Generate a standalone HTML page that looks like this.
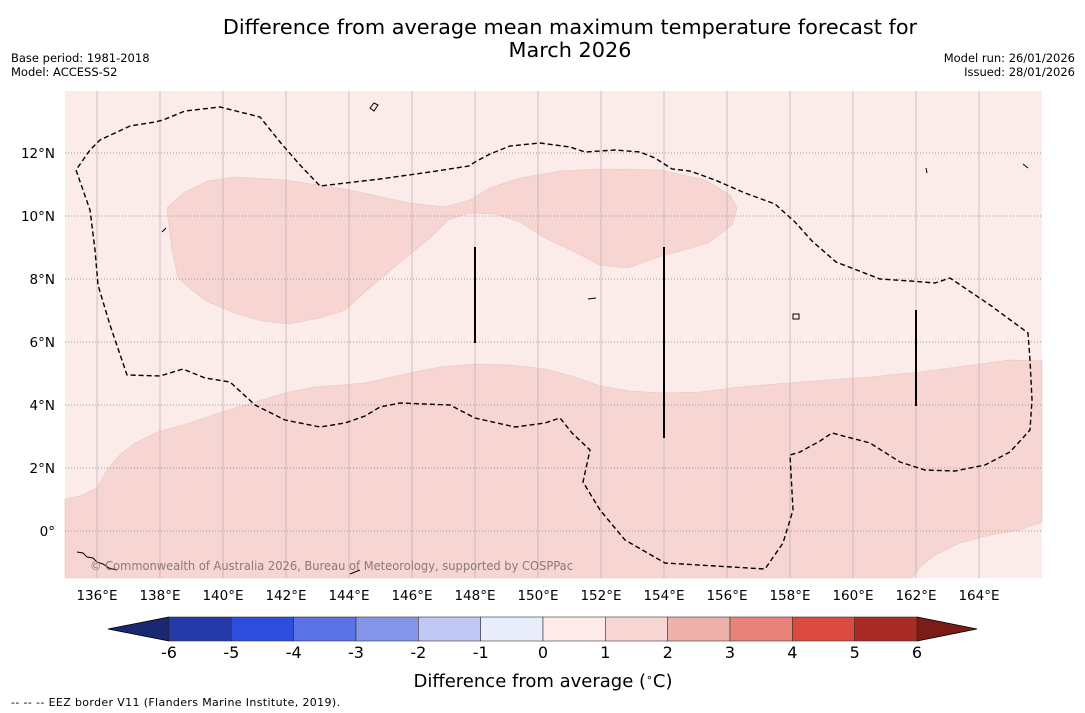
<!DOCTYPE html>
<html><head><meta charset="utf-8"><style>
body{margin:0;width:1085px;height:713px;background:#fff;font-family:"DejaVu Sans","Liberation Sans",sans-serif;overflow:hidden}
</style></head><body>
<svg width="1085" height="713" style="position:absolute;left:0;top:0">
<text x="570" y="34" font-size="20.8" text-anchor="middle">Difference from average mean maximum temperature forecast for</text>
<text x="570" y="57" font-size="20.8" text-anchor="middle">March 2026</text>
<text x="11" y="62" font-size="11.5">Base period: 1981-2018</text>
<text x="11" y="76" font-size="11.5">Model: ACCESS-S2</text>
<text x="1075" y="62" font-size="11.5" text-anchor="end">Model run: 26/01/2026</text>
<text x="1075" y="76" font-size="11.5" text-anchor="end">Issued: 28/01/2026</text>
<g id="map">
<rect x="65" y="91" width="977" height="487" fill="#fbebe9"/>
<polygon fill="#f6d5d3" stroke="#e9c4c2" stroke-width="0.6" points="167,208 185,192 208,181 235,177 285,180 345,189 410,203 445,207 470,200 490,188 520,178 560,171 600,169 660,170 705,180 730,195 737,208 732,225 708,243 680,251 655,258 628,268 600,265 575,252 545,238 520,222 495,214 470,213 448,220 430,238 405,258 385,275 367,290 345,310 320,318 288,324 262,321 235,313 208,302 192,290 178,278 172,250"/>
<polygon fill="#f6d5d3" stroke="#e9c4c2" stroke-width="0.6" points="65,499 80,496 97,488 107,470 120,455 135,443 158,432 190,423 225,411 255,402 285,393 315,387 365,383 410,373 440,367 475,364 510,365 545,369 575,377 600,386 630,391 660,393 700,392 740,387 800,382 870,377 920,372 980,364 1010,360 1042,361 1042,522 1020,530 990,535 960,543 935,555 920,567 912,578 65,578"/>
<g id="grid"></g>
<polygon fill="none" stroke="#000" stroke-width="1.4" stroke-dasharray="5,3" points="76,170 90,210 95,250 98,285 110,325 127,375 160,376 183,369 205,378 230,382 255,405 285,420 320,427 345,423 365,416 380,407 400,403 450,405 475,418 515,427 545,423 560,418 572,433 590,450 583,482 600,510 625,540 665,563 765,569 783,543 793,510 790,455 800,452 820,441 832,433 870,443 900,462 925,470 955,471 985,465 1010,452 1030,430 1032,400 1030,360 1028,333 990,305 950,278 935,283 910,281 880,279 836,262 812,241 795,222 775,204 745,193 715,180 690,171 672,169 655,158 640,152 615,150 585,152 570,147 540,143 510,146 490,154 475,162 469,166 430,172 380,179 320,186 300,165 280,142 260,117 220,107 185,111 163,120 155,122 130,126 100,140 90,150"/>
<line x1="475" y1="247" x2="475" y2="343" stroke="#000" stroke-width="2"/>
<line x1="664" y1="247" x2="664" y2="438" stroke="#000" stroke-width="2"/>
<line x1="916" y1="310" x2="916" y2="406" stroke="#000" stroke-width="2"/>
<path d="M77,552 l6,1 4,4 6,1 4,4 6,2 6,4 8,2 M370,108 l4,-5 4,2 -4,6z M588,299 l8,-1 M793,314 l6,0 0,5 -6,0z M162,232 l4,-4 M926,168 l1,5 M1023,164 l5,4 M350,574 l10,-4" stroke="#000" fill="none" stroke-width="1"/>
<text x="90" y="570" font-size="12" fill="#8a7a7a" textLength="483" lengthAdjust="spacingAndGlyphs">© Commonwealth of Australia 2026, Bureau of Meteorology, supported by COSPPac</text>
</g>
<g id="xticks"></g>
<g id="ylabels"></g>
<g id="cbar"></g>
<text x="543" y="687" font-size="18" text-anchor="middle">Difference from average (<tspan baseline-shift="super" font-size="11">∘</tspan>C)</text>
<text x="11" y="706" font-size="11" textLength="329">--  --  -- EEZ border V11 (Flanders Marine Institute, 2019).</text>
</svg>
<script>
const lonTicks=[136,138,140,142,144,146,148,150,152,154,156,158,160,162,164];
const latTicks=[12,10,8,6,4,2,0];
const cbarLevels=[-6,-5,-4,-3,-2,-1,0,1,2,3,4,5,6];
const cbarColors=["#2539a8","#2d4ddf","#5a72e4","#8396ea","#c0c8f3","#e9ecfb","#fcebe9","#f6d5d3","#eeb0aa","#e88379","#dc4b40","#a82b25"];
const NS="http://www.w3.org/2000/svg";
function xLon(l){return 97+(l-136)*31.5;}
function yLat(a){return 531-a*31.5;}
function mk(tag,attrs,parent){const e=document.createElementNS(NS,tag);for(const k in attrs)e.setAttribute(k,attrs[k]);parent.appendChild(e);return e;}
const grid=document.getElementById('grid'),xt=document.getElementById('xticks'),yl=document.getElementById('ylabels'),cb=document.getElementById('cbar');
lonTicks.forEach(l=>{
 const ln=mk('line',{x1:xLon(l),x2:xLon(l),y1:91,y2:578,stroke:'#b0a6a6','stroke-width':0.6},grid);
 
 
 const t=mk('text',{x:xLon(l),y:600,'font-size':13.5,'text-anchor':'middle'},xt);
 t.textContent=l+'°E';
 
 
});
latTicks.forEach(a=>{
 const ln=mk('line',{x1:65,x2:1042,y1:yLat(a),y2:yLat(a),stroke:'#8a8080','stroke-width':0.8,'stroke-dasharray':'1,2'},grid);
 
 
 const t=mk('text',{x:55,y:yLat(a)+5,'font-size':13.5,'text-anchor':'end'},yl);
 t.textContent=a===0?'0°':a+'°N';
 
 
});
const cx0=169,cx1=917,cy=617,ch=24,n=cbarColors.length,w=(cx1-cx0)/n;
const lt=mk('polygon',{points:`108,629 ${cx0},${cy} ${cx0},${cy+ch}`,fill:'#1a2873',stroke:'#000','stroke-width':0.8},cb);


const rt=mk('polygon',{points:`977,629 ${cx1},${cy} ${cx1},${cy+ch}`,fill:'#7a1c17',stroke:'#000','stroke-width':0.8},cb);


cbarColors.forEach((c,i)=>{
 const r=mk('rect',{x:cx0+i*w,y:cy,width:w,height:ch,fill:c,stroke:'#333','stroke-width':0.6},cb);
 
 
});
cbarLevels.forEach((v,i)=>{
 const t=mk('text',{x:cx0+i*w,y:658,'font-size':16,'text-anchor':'middle'},cb);
 t.textContent=v;
 
 
});
</script>
</body></html>
